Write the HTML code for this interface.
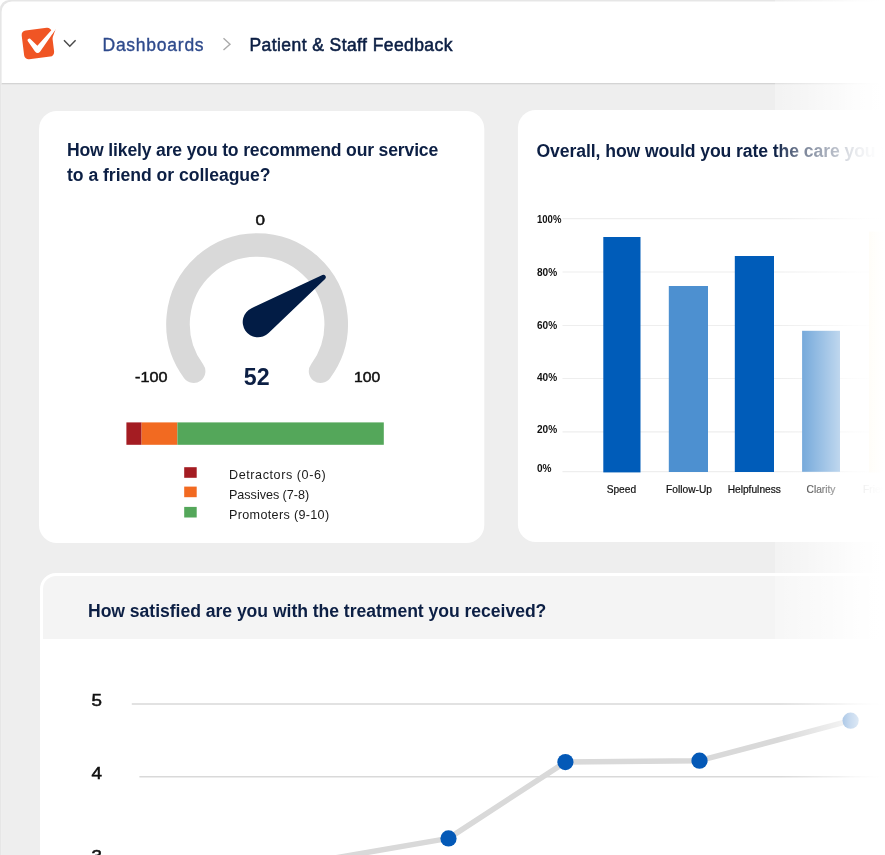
<!DOCTYPE html>
<html lang="en">
<head>
<meta charset="utf-8">
<title>Patient &amp; Staff Feedback</title>
<style>
*{box-sizing:border-box;margin:0;padding:0}
html,body{width:885px;height:855px;overflow:hidden;background:#fff}
body{font-family:"Liberation Sans",sans-serif;color:#0c1f44;position:relative}
#frame{position:absolute;left:0;top:0;width:885px;height:855px;overflow:hidden}
#page{position:absolute;left:0;top:0;width:900px;height:870px}
.abs{position:absolute;white-space:nowrap}
.crumb{top:35px;font-size:17.5px;line-height:20px;-webkit-text-stroke:.35px currentColor}
#crumb1{left:102.5px;color:#2e4a8c;letter-spacing:.75px}
#crumb2{left:249.5px;color:#0c1f44;letter-spacing:.42px;-webkit-text-stroke:.55px currentColor}
#card3{position:absolute;left:40px;top:573px;width:900px;height:320px;border-radius:16px 0 0 0;background:#fff;overflow:hidden}
#card3 .hd{position:absolute;left:3px;top:3px;right:0;height:63px;background:#f4f4f4;border-radius:13px 0 0 0}
.title{font-weight:bold;font-size:17.6px;line-height:24px;color:#0c1f44}
svg{position:absolute;left:0;top:0;overflow:visible}
.lbl{font-size:15px;line-height:16px;color:#111;font-weight:normal;-webkit-text-stroke:.5px currentColor}
.leg{font-size:12.6px;line-height:16px;color:#1a1a1a;left:229px}
.yl{font-size:10.2px;line-height:12px;color:#111;font-weight:bold;left:536.8px;transform:scaleX(.99);transform-origin:0 50%}
.xl{font-size:10.2px;line-height:12px;color:#111;-webkit-text-stroke:.2px currentColor;text-align:center;width:80px}
.ln{font-size:16.8px;line-height:20px;color:#111;font-weight:normal;-webkit-text-stroke:.55px currentColor;left:91.6px;transform:scaleX(1.12);transform-origin:50% 50%}
#fade{position:absolute;left:765px;top:0;width:120px;height:855px;pointer-events:none;
background:linear-gradient(to right,rgba(255,255,255,0) 13px,rgba(255,255,255,.23) 37px,rgba(255,255,255,.64) 75px,rgba(255,255,255,.78) 85px,rgba(255,255,255,.86) 93px,rgba(255,255,255,.96) 107px,#fff 118px)}
#fade2{position:absolute;left:770px;top:136px;width:115px;height:32px;pointer-events:none;background:linear-gradient(to right,rgba(255,255,255,0) 4px,rgba(255,255,255,.28) 28px,rgba(255,255,255,.3) 65px,rgba(255,255,255,.45) 90px)}
#step{position:absolute;left:775px;top:0;width:110px;height:855px;background:rgba(255,255,255,.33)}
</style>
</head>
<body>
<div id="frame"><div id="page">
  <svg id="bg" width="885" height="855" viewBox="0 0 885 855">
    <path d="M0 856 V9 A9 9 0 0 1 9 0 H886 V856 Z" fill="#e6e6e6"/>
    <path d="M1.6 856 V11.9 A10.3 10.3 0 0 1 11.9 1.6 H886 V856 Z" fill="#ffffff"/>
    <rect x="1.6" y="83" width="885" height="1.7" fill="#d4d4d4"/>
    <rect x="1.6" y="84.6" width="885" height="772" fill="#eeeeee"/>
    <rect x="39" y="111" width="445.3" height="432" rx="18" fill="#ffffff"/>
    <rect x="517.9" y="110" width="420" height="432" rx="18" fill="#ffffff"/>
  </svg>
  <div id="crumb1" class="abs crumb">Dashboards</div>
  <div id="crumb2" class="abs crumb">Patient &amp; Staff Feedback</div>

  <div id="card3"><div class="hd"></div></div>
  <div id="step"></div>

  <div class="abs title" id="t1a" style="left:67px;top:138.3px;letter-spacing:-.17px">How likely are you to recommend our service</div>
  <div class="abs title" id="t1b" style="left:67px;top:162.5px;letter-spacing:-.03px">to a friend or colleague?</div>
  <div class="abs title" id="t2" style="left:536.5px;top:139.2px;letter-spacing:-.08px">Overall, how would you rate the care you received?</div>
  <div class="abs title" id="t3" style="left:88px;top:599.2px;letter-spacing:-.04px">How satisfied are you with the treatment you received?</div>

  <svg width="885" height="855" viewBox="0 0 885 855">
    <!-- logo -->
    <g id="logo">
      <rect x="-15.1" y="-14.5" width="30.2" height="29" rx="4.5" fill="#f05524" transform="translate(37.9 43.5) rotate(-7)"/>
      <polygon points="52,39 55.7,29.1 46,42 50,44" fill="#f05524"/>
      <path d="M29.9 38.5 L37.4 45.8 L51.1 30.4 L56 28.8 L40.2 51.6 Q37.6 54.6 35 51.6 L27.7 41 Q26.9 38.6 29.9 38.5 Z" fill="#fff"/>
    </g>
    <path d="M64 40.3 L69.8 46.2 L75.6 40.3" fill="none" stroke="#4a4a4a" stroke-width="1.5"/>
    <path d="M223.5 38.3 L230 44.2 L223.5 50.1" fill="none" stroke="#aaaaaa" stroke-width="1.4"/>

    <!-- gauge -->
    <path d="M193.6 371.2 A79.1 79.1 0 1 1 320.6 371.2" fill="none" stroke="#d9d9d9" stroke-width="23.6" stroke-linecap="round"/>
    <path d="M251.52 308.14 A15.3 15.3 0 1 0 268.59 333.05 L325.06 278.93 A2.4 2.4 0 0 0 322.38 275.03 Z" fill="#021c45"/>
    <!-- stacked bar -->
    <rect x="126.4" y="422.4" width="15.2" height="22.4" fill="#a41c22"/>
    <rect x="141.6" y="422.4" width="35.8" height="22.4" fill="#f26a21"/>
    <rect x="177.4" y="422.4" width="206.4" height="22.4" fill="#54a75a"/>
    <rect x="184.2" y="467.2" width="12.5" height="10.6" fill="#a41c22"/>
    <rect x="184.2" y="486.6" width="12.5" height="10.6" fill="#f26a21"/>
    <rect x="184.2" y="506.9" width="12.5" height="10.6" fill="#54a75a"/>

    <!-- bar chart -->
    <g stroke="#eeeeee" stroke-width="1.2">
      <line x1="562.5" x2="885" y1="218.7" y2="218.7"/>
      <line x1="562.5" x2="885" y1="272" y2="272"/>
      <line x1="562.5" x2="885" y1="325.5" y2="325.5"/>
      <line x1="562.5" x2="885" y1="378.5" y2="378.5"/>
      <line x1="562.5" x2="885" y1="431.8" y2="431.8"/>
      <line x1="562.5" x2="885" y1="471.6" y2="471.6"/>
    </g>
    <rect x="603.3" y="237" width="37.2" height="235.4" fill="#005cb9"/>
    <rect x="668.8" y="286" width="39.2" height="186" fill="#4d90d0"/>
    <rect x="734.8" y="256" width="39.2" height="216" fill="#005cb9"/>
    <rect x="802.1" y="330.8" width="37.9" height="141" fill="#4d90d0"/>
    <rect x="869" y="231.6" width="38" height="240.8" fill="#f7d98a"/>

    <!-- line chart -->
    <line x1="131.8" x2="885" y1="704" y2="704" stroke="#d9d9d9" stroke-width="1.6"/>
    <line x1="139.4" x2="885" y1="776.7" y2="776.7" stroke="#d9d9d9" stroke-width="1.6"/>
    <polyline points="236,875 448.5,838.4 565.4,762.1 699.5,760.7 850.6,720.7" fill="none" stroke="#d9d9d9" stroke-width="5.5" stroke-linejoin="round"/>
    <g fill="#0459b7">
      <circle cx="448.5" cy="838.4" r="8.1"/>
      <circle cx="565.4" cy="762.1" r="8.1"/>
      <circle cx="699.5" cy="760.7" r="8.1"/>
      <circle cx="850.6" cy="720.7" r="8.1"/>
    </g>
  </svg>

  <div class="abs lbl" id="g0" style="left:256px;top:211.5px;font-size:15px;transform:scaleX(1.14);transform-origin:50% 50%">0</div>
  <div class="abs lbl" id="gm" style="left:134.6px;top:369px;transform:scaleX(1.08);transform-origin:0 50%">-100</div>
  <div class="abs lbl" id="gp" style="left:354px;top:369px;transform:scaleX(1.05);transform-origin:0 50%">100</div>
  <div class="abs" id="gv" style="left:243.8px;top:364.5px;font-size:23.2px;line-height:24px;font-weight:bold;color:#0c1f44">52</div>

  <div class="abs leg" id="l1" style="top:467px;letter-spacing:.57px">Detractors (0-6)</div>
  <div class="abs leg" id="l2" style="top:486.9px;letter-spacing:-.03px">Passives (7-8)</div>
  <div class="abs leg" id="l3" style="top:506.7px;letter-spacing:.33px">Promoters (9-10)</div>

  <div class="abs yl" id="y100" style="top:214px;transform:scaleX(.935)">100%</div>
  <div class="abs yl" id="y80" style="top:267px">80%</div>
  <div class="abs yl" id="y60" style="top:320px">60%</div>
  <div class="abs yl" id="y40" style="top:372px">40%</div>
  <div class="abs yl" id="y20" style="top:424px">20%</div>
  <div class="abs yl" id="y0" style="top:463px">0%</div>

  <div class="abs xl" id="x1" style="left:581.4px;top:484px">Speed</div>
  <div class="abs xl" id="x2" style="left:649px;top:484px">Follow-Up</div>
  <div class="abs xl" id="x3" style="left:714.3px;top:484px">Helpfulness</div>
  <div class="abs xl" id="x4" style="left:781px;top:484px">Clarity</div>
  <div class="abs xl" id="x5" style="left:850.5px;top:484px;color:#666">Friendliness</div>

  <div class="abs ln" id="n5" style="top:691px">5</div>
  <div class="abs ln" id="n4" style="top:764px">4</div>
  <div class="abs ln" id="n3" style="top:847px">3</div>
</div></div>
<div id="fade2"></div>
<div id="fade"></div>
</body>
</html>
